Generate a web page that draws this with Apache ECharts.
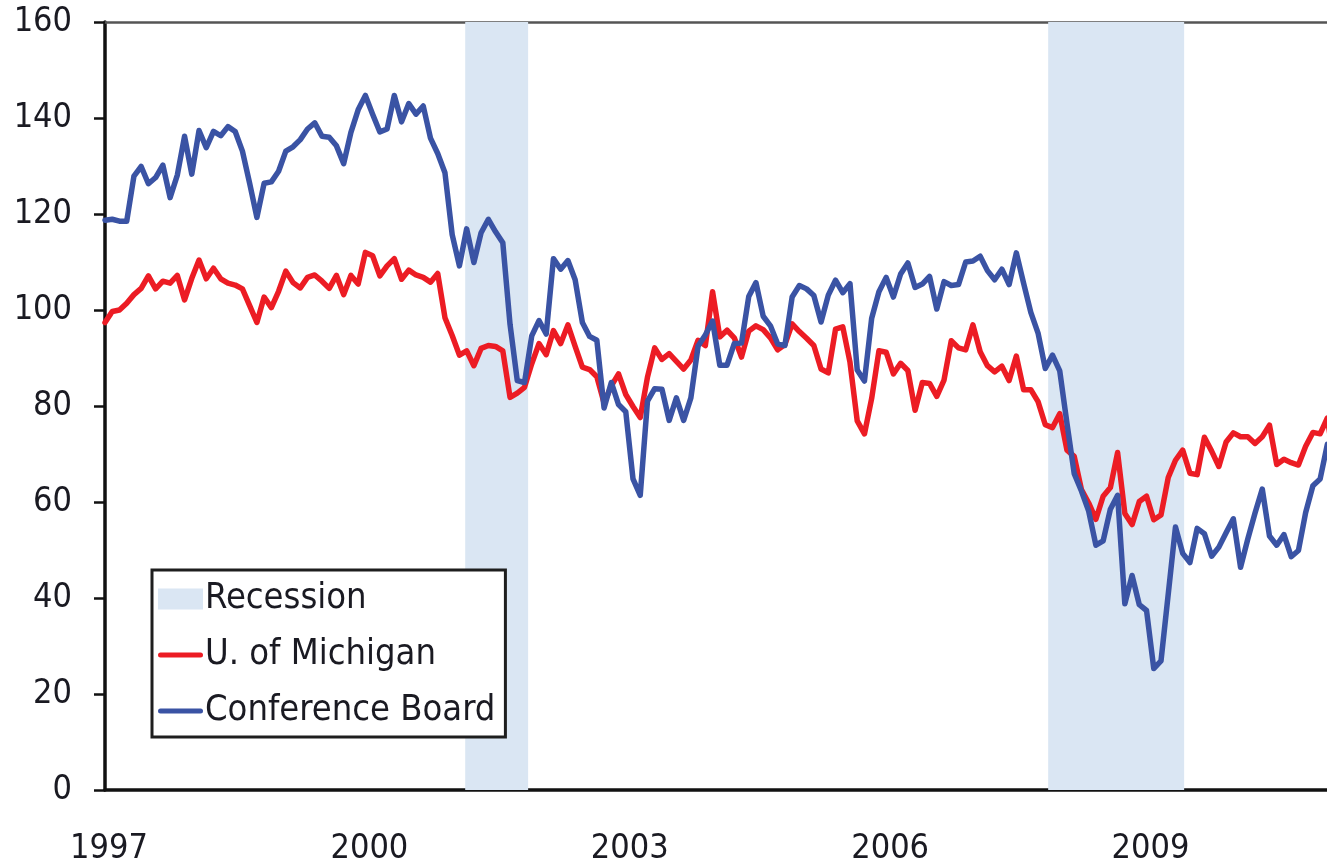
<!DOCTYPE html>
<html>
<head>
<meta charset="utf-8">
<style>
  html, body { margin: 0; padding: 0; background: #ffffff; }
  #chart { width: 1327px; height: 866px; }
</style>
<script src="https://cdn.jsdelivr.net/npm/echarts@6/dist/echarts.min.js"></script>
</head>
<body>
<div id="chart"></div>
<script>
// Monthly values, Jan 1997 .. Mar 2011 (x = months since Jan 1997)
const startYear = 1997;
const xTickYears = [1997, 2000, 2003, 2006, 2009];
const yTicks = [0, 20, 40, 60, 80, 100, 120, 140, 160];

const michigan = [
  97.4, 99.7, 100.0, 101.4, 103.2, 104.5, 107.1, 104.4, 106.0, 105.6, 107.2, 102.1,
  106.6, 110.4, 106.5, 108.7, 106.5, 105.6, 105.2, 104.4, 100.9, 97.4, 102.7, 100.5,
  103.9, 108.1, 105.7, 104.6, 106.8, 107.3, 106.0, 104.5, 107.2, 103.2, 107.2, 105.4,
  112.0, 111.3, 107.1, 109.2, 110.7, 106.4, 108.3, 107.3, 106.8, 105.8, 107.6, 98.4,
  94.7, 90.6, 91.5, 88.4, 92.0, 92.6, 92.4, 91.5, 81.8, 82.7, 83.9, 88.8,
  93.0, 90.7, 95.7, 93.0, 96.9, 92.4, 88.1, 87.6, 86.1, 80.6, 84.2, 86.7,
  82.4, 79.9, 77.6, 86.0, 92.1, 89.7, 90.9, 89.3, 87.7, 89.6, 93.7, 92.6,
  103.8, 94.4, 95.8, 94.2, 90.2, 95.6, 96.7, 95.9, 94.2, 91.7, 92.8, 97.1,
  95.5, 94.1, 92.6, 87.7, 86.9, 96.0, 96.5, 89.1, 76.9, 74.2, 81.6, 91.5,
  91.2, 86.7, 88.9, 87.4, 79.1, 84.9, 84.7, 82.0, 85.4, 93.6, 92.1, 91.7,
  96.9, 91.3, 88.4, 87.1, 88.3, 85.3, 90.4, 83.4, 83.4, 80.9, 76.1, 75.5,
  78.4, 70.8, 69.5, 62.6, 59.8, 56.4, 61.2, 63.0, 70.3, 57.6, 55.3, 60.1,
  61.2, 56.3, 57.3, 65.1, 68.7, 70.8, 66.0, 65.7, 73.5, 70.6, 67.4, 72.5,
  74.4, 73.6, 73.6, 72.2, 73.6, 76.0, 67.8, 68.9, 68.2, 67.7, 71.6, 74.5,
  74.2, 77.5, 67.5
];

const conference = [
  118.7, 118.9, 118.5, 118.5, 127.9, 129.9, 126.3, 127.6, 130.2, 123.4, 128.1, 136.2,
  128.3, 137.4, 133.8, 137.2, 136.3, 138.2, 137.2, 133.1, 126.4, 119.3, 126.4, 126.7,
  128.9, 133.1, 134.0, 135.5, 137.7, 139.0, 136.2, 136.0, 134.2, 130.5, 137.0, 141.7,
  144.7, 140.8, 137.1, 137.7, 144.7, 139.2, 143.0, 140.8, 142.5, 135.8, 132.6, 128.6,
  115.7, 109.2, 116.9, 109.9, 116.1, 118.9, 116.3, 114.0, 97.0, 85.3, 84.9, 94.6,
  97.8, 95.0, 110.7, 108.5, 110.3, 106.3, 97.4, 94.5, 93.7, 79.6, 84.9, 80.3,
  78.8, 64.8, 61.4, 81.0, 83.6, 83.5, 77.0, 81.7, 77.0, 81.7, 92.5, 94.8,
  97.7, 88.5, 88.5, 93.0, 93.1, 102.8, 105.7, 98.7, 96.7, 92.9, 92.6, 102.7,
  105.1, 104.4, 103.0, 97.5, 103.1, 106.2, 103.6, 105.5, 87.5, 85.2, 98.3, 103.8,
  106.8, 102.7, 107.5, 109.8, 104.7, 105.4, 107.0, 100.2, 105.9, 105.1, 105.3, 110.0,
  110.2, 111.2, 108.2, 106.3, 108.5, 105.3, 111.9, 105.6, 99.5, 95.2, 87.8, 90.6,
  87.3, 76.4, 65.9, 62.3, 58.1, 51.0, 51.9, 58.5, 61.4, 38.8, 44.7, 38.6,
  37.4, 25.3, 26.9, 40.8, 54.8, 49.3, 47.4, 54.5, 53.4, 48.7, 50.6, 53.6,
  56.5, 46.4, 52.3, 57.7, 62.7, 52.9, 51.0, 53.2, 48.6, 49.9, 57.8, 63.4,
  64.8, 72.0, 63.8
];

// Recession periods in months since Jan 1997 (Mar–Nov 2001, Dec 2007–Jun 2009)
const recessionStart = [49.8, 130.4];
const recessionEnd = [58.5, 149.2];

const seriesNames = ['Recession', 'U. of Michigan', 'Conference Board'];

const FONT = '"DejaVu Sans Condensed", "Liberation Sans Narrow", "Roboto Condensed", "DejaVu Sans", sans-serif';
const TEXT = '#1a1a22';
const RED = '#ec1c24';
const BLUE = '#3a53a4';
const SHADE = '#dae6f3';

// visible x extent (months): the plot is cut at the right edge of the picture
const xMax = 168.95;
const lineIcon = 'path://M2.5,0 L42.5,0 A2.5,2.5 0 0 1 42.5,5 L2.5,5 A2.5,2.5 0 0 1 2.5,0 Z';

const chart = echarts.init(document.getElementById('chart'), null, { renderer: 'canvas' });
chart.setOption({
  animation: false,
  backgroundColor: '#ffffff',
  grid: { left: 105, top: 22, right: 0, bottom: 76, containLabel: false },
  legend: {
    orient: 'vertical',
    left: 152,
    top: 570,
    padding: [11, 10, 8, 6],
    itemGap: 20,
    itemWidth: 45,
    itemHeight: 21,
    borderColor: '#1e1e1e',
    borderWidth: 3,
    backgroundColor: '#ffffff',
    itemStyle: { borderWidth: 0 },
    textStyle: { fontFamily: FONT, fontSize: 36, color: TEXT, padding: [0, 0, 0, -3] },
    data: [
      { name: seriesNames[0], icon: 'rect' },
      { name: seriesNames[1], icon: lineIcon },
      { name: seriesNames[2], icon: lineIcon }
    ]
  },
  xAxis: [
    {
      type: 'value',
      min: 0,
      max: xMax,
      interval: 36,
      axisLine: { show: true, onZero: false, lineStyle: { color: '#111111', width: 3.5 } },
      axisTick: { show: false },
      splitLine: { show: false },
      axisLabel: {
        margin: 42,
        showMaxLabel: false,
        padding: [0, 0, 0, 8],
        fontFamily: FONT,
        fontSize: 34,
        color: TEXT,
        formatter: function (v) {
          const y = startYear + v / 12;
          return xTickYears.indexOf(y) >= 0 ? String(y) : '';
        }
      }
    },
    {
      type: 'value',
      position: 'top',
      min: 0,
      max: xMax,
      axisLine: { show: true, onZero: false, lineStyle: { color: '#555555', width: 2.5 } },
      axisTick: { show: false },
      axisLabel: { show: false },
      splitLine: { show: false }
    }
  ],
  yAxis: {
    type: 'value',
    min: yTicks[0],
    max: yTicks[yTicks.length - 1],
    interval: yTicks[1] - yTicks[0],
    axisLine: { show: true, lineStyle: { color: '#111111', width: 3.5 } },
    axisTick: { show: true, inside: false, length: 11, lineStyle: { color: '#111111', width: 2.5 } },
    splitLine: { show: false },
    axisLabel: { margin: 33, fontFamily: FONT, fontSize: 34, color: TEXT, padding: [4, 0, 0, 0] }
  },
  series: [
    {
      name: seriesNames[0],
      type: 'line',
      data: [],
      color: SHADE,
      z: 1,
      markArea: {
        silent: true,
        itemStyle: { color: SHADE },
        data: recessionStart.map(function (s, i) { return [{ xAxis: s }, { xAxis: recessionEnd[i] }]; })
      }
    },
    {
      name: seriesNames[1],
      type: 'line',
      z: 3,
      color: RED,
      symbol: 'none',
      lineStyle: { color: RED, width: 5.5, join: 'round', cap: 'round' },
      data: michigan.map(function (v, i) { return [i, v]; })
    },
    {
      name: seriesNames[2],
      type: 'line',
      z: 4,
      color: BLUE,
      symbol: 'none',
      lineStyle: { color: BLUE, width: 5.5, join: 'round', cap: 'round' },
      data: conference.map(function (v, i) { return [i, v]; })
    }
  ]
});
</script>
</body>
</html>
